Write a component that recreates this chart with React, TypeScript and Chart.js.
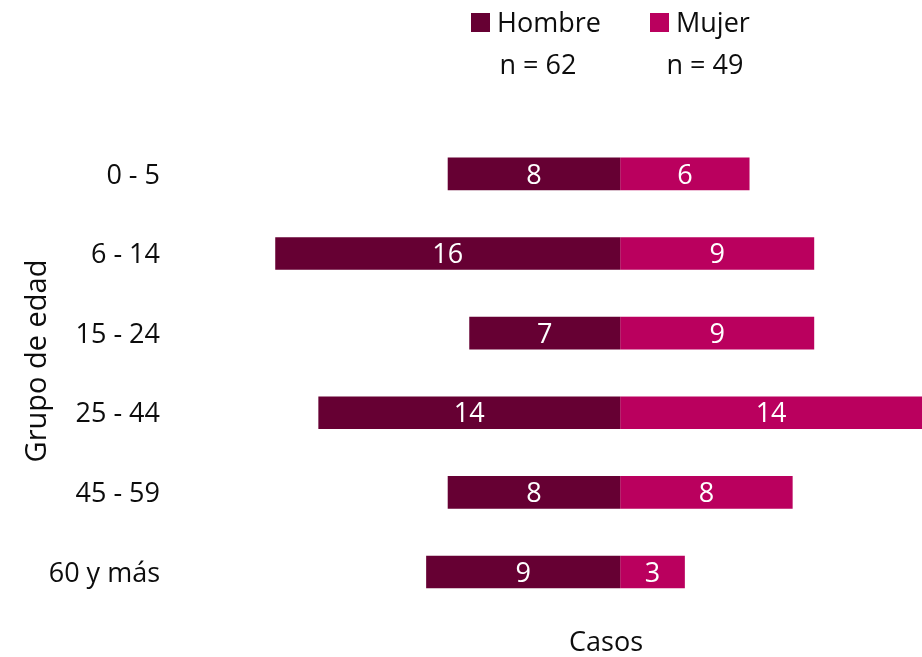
import React, { useEffect, useRef } from "react";
import { Chart, registerables } from "chart.js";

Chart.register(...registerables);

const categories = ["0 - 5", "6 - 14", "15 - 24", "25 - 44", "45 - 59", "60 y más"];
const hombre = [8, 16, 7, 14, 8, 9];
const mujer = [6, 9, 9, 14, 8, 3];
const seriesNames = ["Hombre", "Mujer"];
const seriesColors = ["#660033", "#BA005E"];
const axisTitleX = "Casos";
const axisTitleY = "Grupo de edad";

const FONT = "'Open Sans', sans-serif";
const FS = 27;
const TEXT = "#0d0d0d";

export default function App() {
  const ref = useRef<HTMLCanvasElement | null>(null);

  useEffect(() => {
    if (!ref.current) return;
    const totals = [hombre, mujer].map((a) => a.reduce((s, v) => s + v, 0));

    const labelsPlugin = {
      id: "valueLabels",
      afterDatasetsDraw(chart: any) {
        const ctx = chart.ctx;
        ctx.save();
        ctx.font = `${FS}px ${FONT}`;
        ctx.fillStyle = "#ffffff";
        ctx.textAlign = "center";
        ctx.textBaseline = "middle";
        chart.data.datasets.forEach((ds: any, di: number) => {
          const meta = chart.getDatasetMeta(di);
          meta.data.forEach((el: any, i: number) => {
            const v = Math.abs(ds.data[i]);
            const p = el.getProps(["x", "y", "base"], true);
            ctx.fillText(String(v), (p.x + p.base) / 2, p.y + 2);
          });
        });
        ctx.restore();
      },
    };

    const legendPlugin = {
      id: "customLegend",
      afterDraw(chart: any) {
        const ctx = chart.ctx;
        ctx.save();
        ctx.font = `${FS}px ${FONT}`;
        ctx.textBaseline = "alphabetic";
        const items = [
          { box: 471, text: 497, n: 538 },
          { box: 650, text: 676, n: 705 },
        ];
        items.forEach((it, i) => {
          ctx.fillStyle = seriesColors[i];
          ctx.fillRect(it.box, 13, 19, 19);
          ctx.fillStyle = TEXT;
          ctx.textAlign = "left";
          ctx.fillText(seriesNames[i], it.text, 32);
          ctx.textAlign = "center";
          ctx.fillText(`n = ${totals[i]}`, it.n, 74);
        });

        // axis titles
        ctx.textAlign = "center";
        ctx.textBaseline = "middle";
        ctx.font = `${FS}px ${FONT}`;
        ctx.fillText(axisTitleX, 606, 643);
        ctx.translate(38, 361);
        ctx.rotate(-Math.PI / 2);
        ctx.font = `29px ${FONT}`;
        ctx.fillText(axisTitleY, 0, 0);
        ctx.restore();
      },
    };

    const chart = new Chart(ref.current, {
      type: "bar",
      data: {
        labels: categories,
        datasets: [
          {
            label: seriesNames[0],
            data: hombre.map((v) => -v),
            backgroundColor: seriesColors[0],
            borderWidth: 0,
            categoryPercentage: 1,
            barPercentage: 0.41,
          },
          {
            label: seriesNames[1],
            data: mujer,
            backgroundColor: seriesColors[1],
            borderWidth: 0,
            categoryPercentage: 1,
            barPercentage: 0.41,
          },
        ],
      },
      options: {
        indexAxis: "y",
        animation: false,
        responsive: true,
        maintainAspectRatio: false,
        layout: { padding: { top: 134, left: 0, right: 0, bottom: 0 } },
        plugins: {
          legend: { display: false },
          tooltip: { enabled: false },
        },
        scales: {
          x: {
            stacked: true,
            min: -20,
            max: 14,
            grid: { display: false, drawTicks: false },
            border: { display: false },
            ticks: { display: false },
            title: { display: false, text: axisTitleX },
            afterFit(scale: any) {
              scale.height = 43;
            },
          },
          y: {
            stacked: true,
            grid: { display: false, drawTicks: false },
            border: { display: false },
            ticks: {
              color: TEXT,
              font: { family: FONT, size: FS },
              padding: 29,
              labelOffset: 2,
            },
            title: { display: false, text: axisTitleY },
            afterFit(scale: any) {
              scale.width = 189;
            },
          },
        },
      },
      plugins: [labelsPlugin, legendPlugin],
    } as any);

    return () => chart.destroy();
  }, []);

  return (
    <div style={{ position: "absolute", left: 0, top: 0, width: 922, height: 657, background: "#fff" }}>
      <canvas ref={ref} />
    </div>
  );
}
